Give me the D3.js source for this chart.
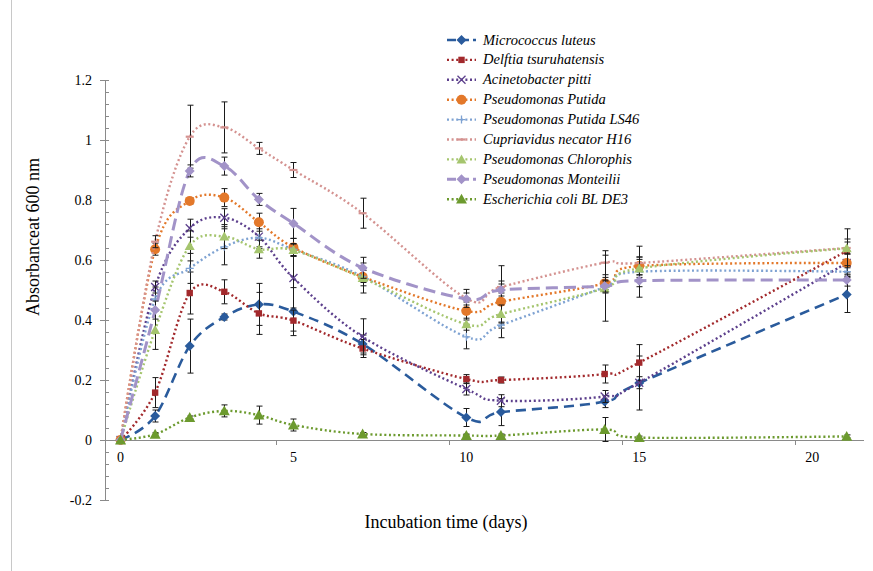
<!DOCTYPE html>
<html>
<head>
<meta charset="utf-8">
<script src="https://cdn.jsdelivr.net/npm/d3@7"></script>
<style>
  body { margin: 0; background: #fff; }
</style>
</head>
<body>
<svg id="chart" width="873" height="571"></svg>
<script>
// incubation days
const days = [0, 1, 2, 3, 4, 5, 7, 10, 11, 14, 15, 21];

const micrococcus = [0, 0.08, 0.313, 0.41, 0.452, 0.428, 0.32, 0.075, 0.093, 0.128, 0.19, 0.485];
const micrococcusErr = [0, 0.02, 0.09, 0.01, 0.07, 0.08, 0.03, 0.03, 0.045, 0.02, 0.09, 0.06];
const delftia = [0, 0.158, 0.49, 0.494, 0.422, 0.398, 0.305, 0.203, 0.2, 0.22, 0.258, 0.63];
const delftiaErr = [0, 0.05, 0.07, 0.04, 0.07, 0.035, 0.03, 0.015, 0.01, 0.03, 0.06, 0.04];
const acinetobacter = [0, 0.51, 0.706, 0.741, 0.678, 0.54, 0.344, 0.17, 0.131, 0.145, 0.191, 0.59];
const acinetobacterErr = [0, 0.02, 0.03, 0.03, 0.04, 0.1, 0.06, 0.02, 0.02, 0.02, 0.02, 0.03];
const putida = [0, 0.636, 0.797, 0.808, 0.726, 0.642, 0.544, 0.43, 0.461, 0.522, 0.58, 0.59];
const putidaErr = [0, 0.02, 0.01, 0.03, 0.03, 0.03, 0.03, 0.03, 0.12, 0.02, 0.03, 0.04];
const putidaLS46 = [0, 0.47, 0.572, 0.644, 0.674, 0.635, 0.545, 0.344, 0.383, 0.51, 0.561, 0.561];
const putidaLS46Err = [0, 0.04, 0.05, 0.06, 0.03, 0.02, 0.02, 0.04, 0.01, 0.02, 0.085, 0.02];
const cupriavidus = [0, 0.661, 1.011, 1.042, 0.972, 0.9, 0.756, 0.472, 0.51, 0.591, 0.59, 0.64];
const cupriavidusErr = [0, 0.02, 0.105, 0.085, 0.02, 0.025, 0.05, 0.03, 0.02, 0.04, 0.02, 0.02];
const chlorophis = [0, 0.367, 0.647, 0.678, 0.636, 0.633, 0.54, 0.386, 0.42, 0.506, 0.572, 0.639];
const chlorophisErr = [0, 0.065, 0.05, 0.04, 0.03, 0.02, 0.05, 0.02, 0.03, 0.11, 0.03, 0.065];
const monteilii = [0, 0.433, 0.897, 0.913, 0.802, 0.722, 0.574, 0.47, 0.5, 0.513, 0.531, 0.533];
const monteiliiErr = [0, 0.03, 0.02, 0.03, 0.02, 0.05, 0.035, 0.02, 0.02, 0.02, 0.02, 0.02];
const ecoli = [0, 0.019, 0.075, 0.097, 0.083, 0.05, 0.02, 0.015, 0.015, 0.035, 0.008, 0.012];
const ecoliErr = [0, 0.005, 0.005, 0.02, 0.03, 0.02, 0.005, 0.005, 0.005, 0.04, 0.005, 0.005];

const yTicks = [-0.2, 0, 0.2, 0.4, 0.6, 0.8, 1, 1.2];
const xLabels = [0, 5, 10, 15, 20];
const xTickMarks = [4.5, 9.5, 14.5, 19.5];

const series = [
  { name: 'Micrococcus luteus', values: micrococcus, err: micrococcusErr, color: '#2a5b9c', dash: '10,6', width: 2.6, marker: 'diamond', size: 5 },
  { name: 'Delftia tsuruhatensis', values: delftia, err: delftiaErr, color: '#a2292c', dash: '2,2.6', width: 2.4, marker: 'square', size: 3.2 },
  { name: 'Acinetobacter pitti', values: acinetobacter, err: acinetobacterErr, color: '#5c3f8c', dash: '2,2.6', width: 2.4, marker: 'x', size: 4 },
  { name: 'Pseudomonas Putida', values: putida, err: putidaErr, color: '#e3782a', dash: '2,2.6', width: 2.4, marker: 'circle', size: 5 },
  { name: 'Pseudomonas Putida LS46', values: putidaLS46, err: putidaLS46Err, color: '#7ea2d2', dash: '2,2.6', width: 2.4, marker: 'plus', size: 4 },
  { name: 'Cupriavidus necator H16', values: cupriavidus, err: cupriavidusErr, color: '#d49290', dash: '2,2.6', width: 2.4, marker: 'dash', size: 4 },
  { name: 'Pseudomonas Chlorophis', values: chlorophis, err: chlorophisErr, color: '#a5c56e', dash: '2,2.6', width: 2.4, marker: 'triangle', size: 5 },
  { name: 'Pseudomonas Monteilii', values: monteilii, err: monteiliiErr, color: '#a293c8', dash: '12,6', width: 3, marker: 'diamond', size: 5 },
  { name: 'Escherichia coli BL DE3', values: ecoli, err: ecoliErr, color: '#6c9a2e', dash: '2,2.6', width: 2.4, marker: 'triangle', size: 5.5 }
];

const serif = 'Liberation Serif';
const svg = d3.select('#chart');

// chart area border (left edge only visible)
svg.append('line')
  .attr('x1', 11.5).attr('x2', 11.5)
  .attr('y1', 0).attr('y2', 571)
  .attr('stroke', '#c8c8c8').attr('stroke-width', 1);

const x = d3.scaleLinear().domain([-0.45, 21.5]).range([105, 864]);
const y = d3.scaleLinear().domain([-0.2, 1.2]).range([500, 80]);
const axisX = 105;

// y axis
const yAxis = svg.append('g').attr('class', 'y-axis');
yAxis.append('line')
  .attr('x1', axisX + 0.5).attr('x2', axisX + 0.5)
  .attr('y1', y(1.2)).attr('y2', y(-0.2))
  .attr('stroke', '#8a8a8a');
const minorTicks = d3.range(-0.2, 1.2001, 0.04);
yAxis.selectAll('.minor').data(minorTicks).enter()
  .append('line')
  .attr('class', 'minor')
  .attr('x1', axisX).attr('x2', axisX + 4)
  .attr('y1', d => Math.round(y(d)) + 0.5)
  .attr('y2', d => Math.round(y(d)) + 0.5)
  .attr('stroke', '#8a8a8a');
yAxis.selectAll('.major').data(yTicks).enter()
  .append('line')
  .attr('class', 'major')
  .attr('x1', axisX - 5).attr('x2', axisX + 4)
  .attr('y1', d => Math.round(y(d)) + 0.5)
  .attr('y2', d => Math.round(y(d)) + 0.5)
  .attr('stroke', '#8a8a8a');
yAxis.selectAll('.label').data(yTicks).enter()
  .append('text')
  .attr('x', 92)
  .attr('y', d => y(d) + 5)
  .attr('text-anchor', 'end')
  .attr('font-family', serif)
  .attr('font-size', 14)
  .text(d => String(+d.toFixed(1)));

// x axis
const xAxis = svg.append('g').attr('class', 'x-axis');
xAxis.append('line')
  .attr('x1', axisX).attr('x2', 864)
  .attr('y1', y(0) + 0.5).attr('y2', y(0) + 0.5)
  .attr('stroke', '#8a8a8a');
xAxis.selectAll('.tick').data(xTickMarks).enter()
  .append('line')
  .attr('x1', d => Math.round(x(d)) + 0.5)
  .attr('x2', d => Math.round(x(d)) + 0.5)
  .attr('y1', y(0)).attr('y2', y(0) + 5)
  .attr('stroke', '#8a8a8a');
xAxis.selectAll('.label').data(xLabels).enter()
  .append('text')
  .attr('x', d => x(d))
  .attr('y', y(0) + 22)
  .attr('text-anchor', 'middle')
  .attr('font-family', serif)
  .attr('font-size', 14)
  .text(d => d);

// axis titles
svg.append('text')
  .attr('transform', 'translate(39,237) rotate(-90)')
  .attr('text-anchor', 'middle')
  .attr('font-family', serif)
  .attr('font-size', 18)
  .text('Absorbanceat 600 nm');
svg.append('text')
  .attr('x', 446).attr('y', 528)
  .attr('text-anchor', 'middle')
  .attr('font-family', serif)
  .attr('font-size', 18)
  .text('Incubation time (days)');

const drawMarker = (g, s, cx, cy) => {
  const r = s.size;
  if (s.marker === 'diamond') {
    g.append('path')
      .attr('d', `M${cx},${cy - r}L${cx + r},${cy}L${cx},${cy + r}L${cx - r},${cy}Z`)
      .attr('fill', s.color);
  } else if (s.marker === 'square') {
    g.append('rect')
      .attr('x', cx - r).attr('y', cy - r)
      .attr('width', r * 2).attr('height', r * 2)
      .attr('fill', s.color);
  } else if (s.marker === 'circle') {
    g.append('circle').attr('cx', cx).attr('cy', cy).attr('r', r).attr('fill', s.color);
  } else if (s.marker === 'triangle') {
    g.append('path')
      .attr('d', `M${cx},${cy - r}L${cx + r},${cy + r * 0.8}L${cx - r},${cy + r * 0.8}Z`)
      .attr('fill', s.color);
  } else if (s.marker === 'x') {
    g.append('path')
      .attr('d', `M${cx - r},${cy - r}L${cx + r},${cy + r}M${cx + r},${cy - r}L${cx - r},${cy + r}`)
      .attr('stroke', s.color).attr('stroke-width', 1.3);
  } else if (s.marker === 'plus') {
    g.append('path')
      .attr('d', `M${cx - r},${cy}L${cx + r},${cy}M${cx},${cy - r}L${cx},${cy + r}`)
      .attr('stroke', s.color).attr('stroke-width', 1.3);
  } else if (s.marker === 'dash') {
    g.append('path')
      .attr('d', `M${cx - r},${cy}L${cx + r},${cy}`)
      .attr('stroke', s.color).attr('stroke-width', 2.2);
  }
};

const line = d3.line()
  .x(d => x(d.day))
  .y(d => y(d.value))
  .curve(d3.curveCardinal.tension(0));

const plot = svg.append('g').attr('class', 'plot');
series.forEach((s, i) => {
  const pts = days.map((day, k) => ({ day, value: s.values[k], err: s.err[k] }));
  const g = plot.append('g').attr('class', `series-${i}`);
  g.append('path')
    .datum(pts)
    .attr('d', line)
    .attr('fill', 'none')
    .attr('stroke', s.color)
    .attr('stroke-width', s.width)
    .attr('stroke-dasharray', s.dash);
  // error bars
  const eb = g.append('g').attr('class', 'errors');
  pts.filter(d => d.err > 0).forEach(d => {
    const cx = Math.round(x(d.day)) + 0.5;
    const y1 = y(d.value + d.err);
    const y2 = y(d.value - d.err);
    eb.append('path')
      .attr('d', `M${cx},${y1}L${cx},${y2}M${cx - 3},${y1}L${cx + 3},${y1}M${cx - 3},${y2}L${cx + 3},${y2}`)
      .attr('stroke', '#1a1a1a')
      .attr('stroke-width', 1)
      .attr('fill', 'none');
  });
  pts.forEach(d => drawMarker(g, s, x(d.day), y(d.value)));
});

// legend
const legend = svg.append('g').attr('class', 'legend');
series.forEach((s, i) => {
  const ly = 40 + i * 19.9;
  const row = legend.append('g');
  row.append('line')
    .attr('x1', 447).attr('x2', 476)
    .attr('y1', ly).attr('y2', ly)
    .attr('stroke', s.color)
    .attr('stroke-width', s.width)
    .attr('stroke-dasharray', s.dash === '2,2.6' ? '2,2.6' : '9,4');
  drawMarker(row, s, 461.5, ly);
  row.append('text')
    .attr('x', 483).attr('y', ly + 4.5)
    .attr('font-family', serif)
    .attr('font-size', 14.5)
    .attr('font-style', 'italic')
    .text(s.name);
});
</script>
</body>
</html>
